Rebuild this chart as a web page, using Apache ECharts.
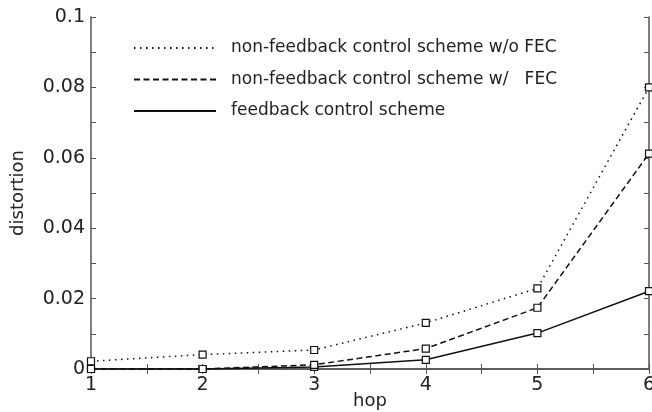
<!DOCTYPE html>
<html>
<head>
<meta charset="utf-8">
<script src="https://cdn.jsdelivr.net/npm/echarts@6/dist/echarts.min.js"></script>
<style>html,body{margin:0;padding:0;background:#fff;}#c{width:652px;height:412px;}</style>
</head>
<body>
<div id="c"></div>
<script>
const hops = [1, 2, 3, 4, 5, 6];
const seriesNames = [
  'non-feedback control scheme w/o FEC',
  'non-feedback control scheme w/   FEC',
  'feedback control scheme'
];
const noFeedbackNoFec = [0.0022, 0.0041, 0.0054, 0.0131, 0.0229, 0.0800];
const noFeedbackFec = [0, 0, 0.0012, 0.0058, 0.0174, 0.0612];
const feedback = [0, 0, 0.0006, 0.0026, 0.0102, 0.0221];
const xLabels = ['1', '2', '3', '4', '5', '6'];
const yLabels = ['0', '0.02', '0.04', '0.06', '0.08', '0.1'];

const FONT = 'DejaVu Sans';
const frameColor = '#555';
function pairs(vals) { return hops.map((h, i) => [h, vals[i]]); }
const lineTypes = [[1.5, 4.5], [6, 3.5], 'solid'];
const allVals = [noFeedbackNoFec, noFeedbackFec, feedback];

const chart = echarts.init(document.getElementById('c'), null, {renderer: 'canvas'});
const commonAxisLine = {show: true, lineStyle: {color: frameColor, width: 1.5}};
chart.setOption({
  animation: false,
  backgroundColor: '#fff',
  grid: {left: 91, right: 3, top: 17, bottom: 43, containLabel: false, outerBoundsMode: 'none'},
  legend: {
    orient: 'vertical',
    left: 133, top: 39.5,
    padding: 0,
    itemWidth: 82, itemHeight: 17, itemGap: 14.5,
    selectedMode: false,
    itemStyle: {opacity: 0},
    textStyle: {fontFamily: FONT, fontSize: 17, color: '#222', padding: [0, 0, 0, 10]},
    data: seriesNames
  },
  xAxis: [{
    type: 'value', min: 1, max: 6, interval: 0.5,
    name: 'hop', nameLocation: 'middle', nameGap: 23,
    nameMoveOverlap: false,
    nameTextStyle: {fontFamily: FONT, fontSize: 18, color: '#222', verticalAlign: 'top'},
    axisLine: commonAxisLine,
    axisTick: {show: true, inside: true, length: 5, lineStyle: {color: frameColor}},
    axisLabel: {
      fontFamily: FONT, fontSize: 19, color: '#222', margin: 7,
      formatter: v => {
        const i = hops.indexOf(Math.round(v * 100) / 100);
        return i >= 0 ? xLabels[i] : '';
      }
    },
    splitLine: {show: false}
  }, {
    type: 'value', min: 1, max: 6, interval: 0.5, position: 'top',
    axisLine: commonAxisLine,
    axisTick: {show: true, inside: true, length: 5, lineStyle: {color: frameColor}},
    axisLabel: {show: false}, splitLine: {show: false}
  }],
  yAxis: [{
    type: 'value', min: 0, max: 0.1, interval: 0.01,
    name: 'distortion', nameLocation: 'middle', nameGap: 64,
    nameMoveOverlap: false,
    nameTextStyle: {fontFamily: FONT, fontSize: 18, color: '#222'},
    axisLine: commonAxisLine,
    axisTick: {show: true, inside: true, length: 5, lineStyle: {color: frameColor}},
    axisLabel: {
      fontFamily: FONT, fontSize: 19, color: '#222', margin: 6,
      formatter: v => {
        const k = Math.round(v * 100);
        return k % 2 === 0 ? yLabels[k / 2] : '';
      }
    },
    splitLine: {show: false}
  }, {
    type: 'value', min: 0, max: 0.1, interval: 0.01, position: 'right',
    axisLine: commonAxisLine,
    axisTick: {show: true, inside: true, length: 5, lineStyle: {color: frameColor}},
    axisLabel: {show: false}, splitLine: {show: false}
  }],
  series: seriesNames.map((name, i) => ({
    name: name,
    type: 'line',
    data: pairs(allVals[i]),
    symbol: 'rect',
    symbolSize: 7,
    showSymbol: true,
    clip: false,
    itemStyle: {color: '#fff', borderColor: '#111', borderWidth: 1.2},
    lineStyle: {color: '#111', width: 1.5, type: lineTypes[i]},
    emphasis: {disabled: true},
    z: 3 - i
  }))
});
</script>
</body>
</html>
